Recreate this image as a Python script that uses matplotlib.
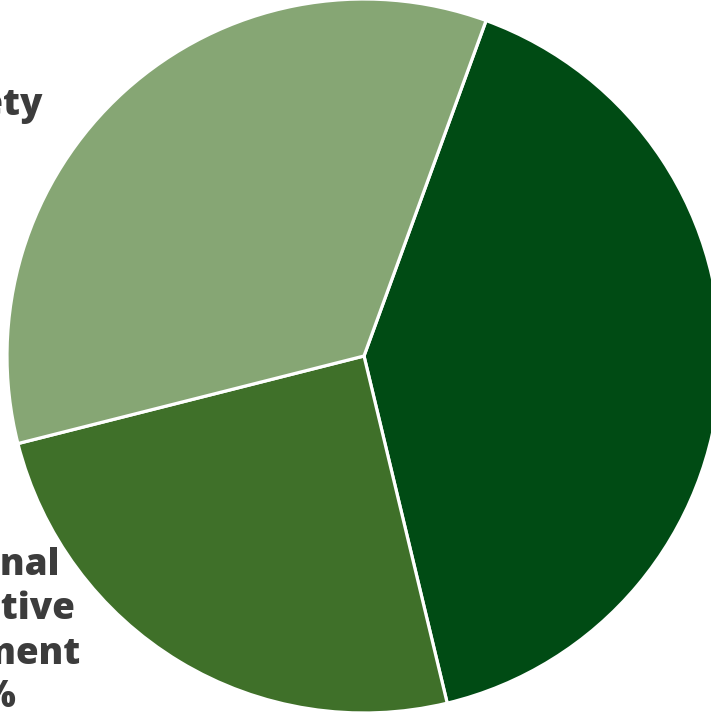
import matplotlib
matplotlib.use("Agg")
import matplotlib.pyplot as plt

# slices, clockwise from the top-right boundary
labels = ["Other", "Personal\nprotective\nequipment\n25%", "Health and safety\n34%"]
values = [40.7, 24.8, 34.5]
colors = ["#004b14", "#3f7029", "#86a674"]

W, H = 711, 712
fig = plt.figure(figsize=(W / 100, H / 100), dpi=100)
ax = fig.add_axes([0, 0, 1, 1])

cx, cy, r = 364, H - 356, 357
ax.pie(values, colors=colors, startangle=70, counterclock=False,
       center=(cx, cy), radius=r, frame=True,
       wedgeprops=dict(edgecolor="white", linewidth=2.3))
ax.set_xlim(0, W)
ax.set_ylim(0, H)
ax.set_aspect("equal")
ax.axis("off")

txt = dict(color="#3c3c3c", fontsize=26.5, fontweight="heavy",
           family=["Open Sans", "DejaVu Sans"], ha="center",
           multialignment="center", linespacing=1.24)
ax.text(-126, H - 87, labels[2], va="top", **txt)
ax.text(-23, H - 547, labels[1], va="top", **txt)

fig.savefig("out.png", dpi=100)
